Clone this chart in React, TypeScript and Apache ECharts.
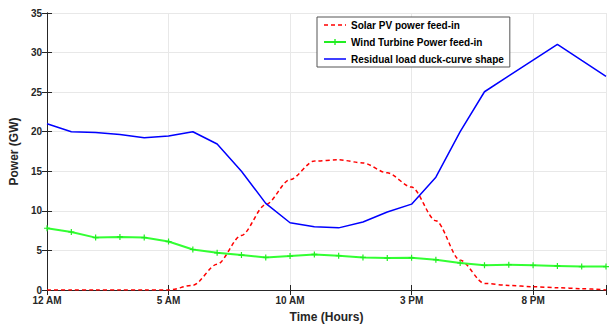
import React, { useEffect, useRef } from "react";
import * as echarts from "echarts";

const hours = [0, 1, 2, 3, 4, 5, 6, 7, 8, 9, 10, 11, 12, 13, 14, 15, 16, 17, 18, 19, 20, 21, 22, 23];
const solar = [0, 0, 0, 0, 0, 0, 0.6, 3.25, 6.9, 10.8, 13.95, 16.3, 16.45, 16.05, 14.8, 13.0, 8.75, 3.75, 0.83, 0.58, 0.42, 0.29, 0.17, 0];
const wind = [7.8, 7.33, 6.62, 6.7, 6.62, 6.12, 5.12, 4.7, 4.41, 4.12, 4.29, 4.5, 4.33, 4.12, 4.04, 4.08, 3.83, 3.41, 3.12, 3.2, 3.12, 3.04, 2.96, 2.96];
const residual = [21, 20, 19.9, 19.65, 19.25, 19.45, 20, 18.45, 15, 10.95, 8.5, 8.0, 7.85, 8.6, 9.85, 10.85, 14.25, 20, 25.05, 27.05, 29.05, 31.05, 29.0, 27.0];
const xTickLabels: Record<number, string> = { 0: "12 AM", 5: "5 AM", 10: "10 AM", 15: "3 PM", 20: "8 PM" };
const seriesNames = ["Solar PV power feed-in", "Wind Turbine Power feed-in", "Residual load duck-curve shape"];

const FONT = "Liberation Sans, Arial, sans-serif";
const AX = "#262626";
const PLUS = "path://M4,0H6V4H10V6H6V10H4V6H0V4H4Z";
// legend icons: 22x14 box with invisible corner anchors
const CORNERS = "M0,0L0.01,0L0,0.01Z M22,14L21.99,14L22,13.99Z ";
const ICON_SOLID = "path://" + CORNERS + "M0,6.2H22V7.8H0Z";
const ICON_DASH = "path://" + CORNERS + "M0,6.2H4V7.8H0Z M7,6.2H11V7.8H7Z M14,6.2H18V7.8H14Z M21,6.2H22V7.8H21Z";
const ICON_PLUS = "path://" + CORNERS + "M0,6.1H22V7.9H0Z M10.3,4H11.7V10H10.3Z M8,6.1H14V7.9H8Z";

export default function App() {
  const ref = useRef<HTMLDivElement>(null);
  useEffect(() => {
    document.body.style.margin = "0";
    const chart = echarts.init(ref.current!, null, { renderer: "svg" });
    const pairs = (ys: number[]) => hours.map((h, i) => [h, ys[i]]);
    const tickCommon = { show: true, inside: true, length: 5, lineStyle: { color: AX, width: 1 } };
    chart.setOption({
      animation: false,
      backgroundColor: "#ffffff",
      grid: { left: 43, right: 4, top: 13, bottom: 35, containLabel: false },
      legend: {
        orient: "vertical",
        left: 317,
        top: 17,
        padding: [1, 6, 1, 7],
        itemGap: 3,
        itemWidth: 22,
        itemHeight: 14,
        backgroundColor: "#ffffff",
        borderColor: "#555555",
        borderWidth: 1,
        textStyle: { fontFamily: FONT, fontWeight: "bold", fontSize: 10, color: "#000" },
        data: [
          { name: seriesNames[0], icon: ICON_DASH },
          { name: seriesNames[1], icon: ICON_PLUS },
          { name: seriesNames[2], icon: ICON_SOLID },
        ],
      },
      xAxis: [
        {
          type: "value",
          min: 0,
          max: 23,
          interval: 5,
          name: "Time (Hours)",
          nameLocation: "middle",
          nameGap: 21,
          nameTextStyle: { fontFamily: FONT, fontWeight: "bold", fontSize: 12, color: AX },
          axisLine: { show: true, lineStyle: { color: AX, width: 1 } },
          axisTick: tickCommon,
          axisLabel: {
            margin: 5,
            fontFamily: FONT,
            fontWeight: "bold",
            fontSize: 10,
            color: AX,
            formatter: (v: number) => xTickLabels[v] ?? "",
          },
          splitLine: { show: true, lineStyle: { color: "#e8e8e8", width: 1 } },
        },
        {
          type: "value",
          position: "top",
          min: 0,
          max: 23,
          interval: 5,
          axisLine: { show: true, lineStyle: { color: AX, width: 1 } },
          axisTick: tickCommon,
          axisLabel: { show: false },
          splitLine: { show: false },
        },
      ],
      yAxis: [
        {
          type: "value",
          min: 0,
          max: 35,
          interval: 5,
          name: "Power (GW)",
          nameLocation: "middle",
          nameGap: 14,
          nameTextStyle: { fontFamily: FONT, fontWeight: "bold", fontSize: 12, color: AX },
          axisLine: { show: true, lineStyle: { color: AX, width: 1 } },
          axisTick: tickCommon,
          axisLabel: { margin: 5, fontFamily: FONT, fontWeight: "bold", fontSize: 10, color: AX },
          splitLine: { show: true, lineStyle: { color: "#e8e8e8", width: 1 } },
        },
        {
          type: "value",
          position: "right",
          min: 0,
          max: 35,
          interval: 5,
          axisLine: { show: true, lineStyle: { color: AX, width: 1 } },
          axisTick: tickCommon,
          axisLabel: { show: false },
          splitLine: { show: false },
        },
      ],
      series: [
        {
          name: seriesNames[0],
          type: "line",
          data: pairs(solar),
          smooth: 0.3,
          smoothMonotone: "x",
          showSymbol: false,
          symbol: "none",
          color: "#ff0000",
          lineStyle: { color: "#ff0000", width: 1.5, type: [4, 3] },
        },
        {
          name: seriesNames[1],
          type: "line",
          data: pairs(wind),
          symbol: PLUS,
          symbolSize: 6,
          color: "#22ee22",
          itemStyle: { color: "#22ee22" },
          lineStyle: { color: "#33ff33", width: 2 },
        },
        {
          name: seriesNames[2],
          type: "line",
          data: pairs(residual),
          symbol: "none",
          color: "#0000ff",
          lineStyle: { color: "#0000ff", width: 1.5 },
        },
      ],
    });
    return () => chart.dispose();
  }, []);
  return <div ref={ref} style={{ width: 610, height: 328 }} />;
}
